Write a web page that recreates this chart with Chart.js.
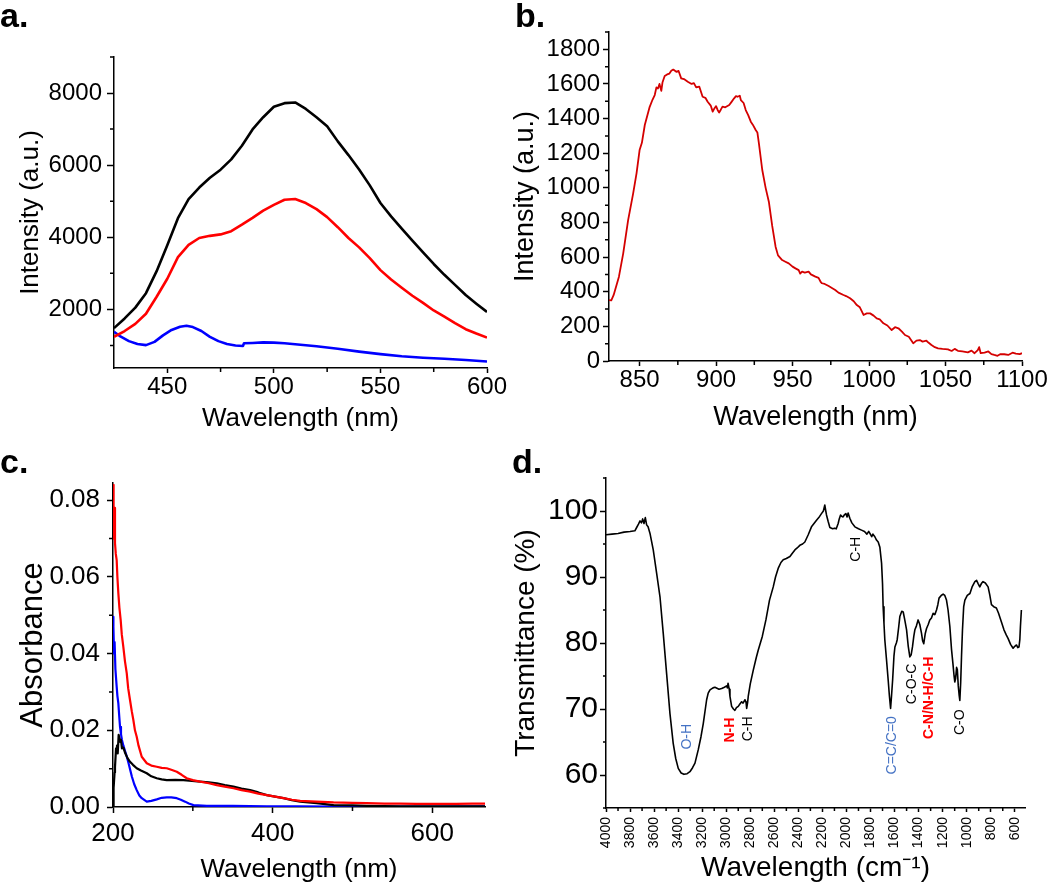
<!DOCTYPE html>
<html>
<head>
<meta charset="utf-8">
<title>Spectra</title>
<script src="https://cdn.jsdelivr.net/npm/chart.js@4.4.0/dist/chart.umd.min.js"></script>
<style>
  body { margin: 0; background: #fff; }
  #wrap { position: relative; width: 1050px; height: 885px; overflow: hidden; }
  canvas { position: absolute; }
</style>
</head>
<body>
<div id="wrap">
  <canvas id="chartA"></canvas>
  <canvas id="chartB"></canvas>
  <canvas id="chartC"></canvas>
  <canvas id="chartD"></canvas>
</div>
<script>
// ---- panel a: emission spectra ----
const aWave = [425, 430, 435, 440, 445, 450, 455, 460, 465, 470, 475, 480, 485, 490, 495, 500, 505, 510,
  515, 520, 525, 530, 535, 540, 545, 550, 555, 560, 565, 570, 575, 580, 585, 590, 595, 600];
const aBlack = [1480, 1750, 2050, 2450, 3060, 3780, 4530, 5060, 5380, 5650, 5875, 6160, 6540, 6990, 7330, 7620, 7720, 7740,
  7560, 7330, 7080, 6660, 6280, 5880, 5440, 4950, 4580, 4240, 3910, 3580, 3260, 2960, 2680, 2400, 2160, 1930];
const aRed = [1240, 1400, 1600, 1880, 2350, 2850, 3450, 3790, 3980, 4040, 4080, 4170, 4350, 4540, 4740, 4900, 5040, 5060,
  4950, 4780, 4560, 4280, 3980, 3720, 3420, 3090, 2830, 2600, 2380, 2180, 1970, 1800, 1620, 1450, 1330, 1220];
const aBlueWave = [425, 428, 432, 436, 440, 444, 448, 452, 456, 459, 462, 466, 470, 474, 478, 482, 485.5, 486,
  490, 495, 500, 505, 510, 520, 530, 540, 550, 560, 570, 580, 590, 600];
const aBlue = [1380, 1250, 1120, 1040, 1010, 1100, 1280, 1430, 1520, 1545, 1510, 1400, 1240, 1120, 1040, 1000, 985, 1060,
  1070, 1085, 1080, 1060, 1035, 980, 910, 830, 760, 700, 660, 630, 595, 555];
const aXTicks = [450, 500, 550, 600];
const aYTicks = [2000, 4000, 6000, 8000];
const aXMinor = [475, 525, 575];
const aYMinor = [1000, 3000, 5000, 7000, 9000];

// ---- panel b: NIR emission ----
const bWave = [
  830, 831.5, 833, 834, 836.5, 839.3, 842.5, 845.8, 848, 850,
  851.5, 853.4, 856.6, 858.5, 859.9, 861, 862, 863, 864.2, 865,
  866.4, 868, 869.5, 870.7, 872, 874, 875.5, 877.2, 879, 881.5,
  884, 885.5, 887, 889, 891.2, 893, 894.5, 896.5, 897.8, 899,
  900, 901, 902, 903, 904.2, 906, 908.6, 910, 911.8, 913,
  914, 915.5, 916.2, 918, 919.4, 921, 922.7, 924, 925.9, 927,
  928, 930.2, 932.4, 934.5, 936.7, 938.9, 940.5, 943.2, 945, 947.5,
  950, 951.9, 954, 955, 956.2, 958, 960.5, 962, 964.9, 967,
  968.5, 969.2, 971, 973.6, 976, 977.9, 980, 983.3, 985, 987.6,
  990, 992, 994, 996.4, 998.5, 1000.7, 1003, 1005, 1007, 1009.4,
  1012, 1014.8, 1017, 1019.2, 1021.5, 1023.5, 1026, 1028.9, 1031, 1033.2,
  1035, 1037.5, 1039, 1040.8, 1043, 1045.1, 1048, 1051.6, 1054, 1056,
  1058.1, 1061, 1064.6, 1067, 1069, 1071.1, 1072, 1073, 1075.5, 1078,
  1080, 1081.9, 1084, 1086, 1088.4, 1091, 1093.8, 1096, 1098.5, 1100];
const bInt = [
  352, 350, 380, 410, 487, 622, 814, 968, 1084, 1218,
  1260, 1363, 1468, 1510, 1536, 1580, 1574, 1600, 1560, 1610,
  1646, 1655, 1660, 1676, 1683, 1670, 1675, 1632, 1628, 1613,
  1600, 1605, 1580, 1585, 1526, 1520, 1497, 1475, 1440, 1460,
  1472, 1450, 1435, 1450, 1469, 1465, 1478, 1495, 1517, 1530,
  1526, 1532, 1507, 1490, 1449, 1420, 1382, 1365, 1334, 1320,
  1257, 1103, 1000, 920, 780, 660, 610, 583, 575, 564,
  545, 535, 525, 505, 516, 510, 516, 500, 487, 480,
  455, 449, 445, 433, 420, 410, 395, 381, 375, 362,
  345, 323, 310, 266, 275, 275, 262, 246, 240, 218,
  205, 179, 195, 189, 170, 150, 140, 102, 118, 121,
  112, 117, 105, 92, 80, 73, 70, 67, 58, 70,
  59, 55, 50, 60, 45, 63, 80, 45, 48, 55,
  40, 35, 30, 40, 39, 35, 48, 42, 40, 45];
const bXTicks = [850, 900, 950, 1000, 1050, 1100];
const bYTicks = [0, 200, 400, 600, 800, 1000, 1200, 1400, 1600, 1800];
const bXMinor = [875, 925, 975, 1025, 1075];
const bYMinor = [100, 300, 500, 700, 900, 1100, 1300, 1500, 1700, 1900];

// ---- panel c: absorbance ----
const cRedWave = [200, 200.5, 201, 201.5, 202.5, 203.5, 204.6, 205.5, 206.7, 208,
  209.6, 211, 212.9, 215, 217.2, 219, 221.3, 223.5, 225.5, 227.5,
  229.7, 232, 236, 242.3, 248, 254.8, 261, 267.3, 273, 279.9,
  286, 292.4, 300, 309.1, 320, 330, 340, 350.9, 361, 371.8,
  382, 392.7, 403, 413.6, 424, 434.5, 455, 476.3, 500, 518.1,
  540, 559.9, 580, 601.6, 630, 650, 666];
const cRed = [0.084, 0.082, 0.070, 0.078, 0.0688, 0.066, 0.0644, 0.060, 0.0557, 0.052,
  0.0488, 0.045, 0.0418, 0.038, 0.0349, 0.031, 0.0279, 0.025, 0.0227, 0.020,
  0.0183, 0.016, 0.0131, 0.0114, 0.0108, 0.0105, 0.0102, 0.0101, 0.0097, 0.0092,
  0.0084, 0.0075, 0.0070, 0.0066, 0.0062, 0.0057, 0.0053, 0.0049, 0.0044, 0.0040,
  0.0035, 0.0031, 0.0027, 0.0023, 0.0019, 0.0016, 0.0014, 0.0012, 0.0011, 0.0010,
  0.0009, 0.0009, 0.0008, 0.0008, 0.0008, 0.0009, 0.0009];
const cBlackWave = [200, 200.5, 201, 202, 202.5, 203.8, 205, 205.9, 207.1, 208,
  209, 210, 211.2, 213, 215.4, 218, 221.3, 225, 229.7, 235,
  242.3, 248, 254.8, 261, 267.3, 278, 288.2, 299, 309.1, 320,
  330, 340, 350.9, 361, 371.8, 382, 392.7, 403, 413.6, 424,
  434.5, 455, 476.3, 500, 518, 560, 601.6, 666];
const cBlack = [0, 0.002, 0.005, 0.009, 0.0104, 0.0153, 0.016, 0.014, 0.0188, 0.018,
  0.017, 0.0175, 0.0153, 0.0155, 0.014, 0.0128, 0.0118, 0.011, 0.0101, 0.0095,
  0.0088, 0.008, 0.0075, 0.0072, 0.007, 0.0071, 0.007, 0.0068, 0.0066, 0.0064,
  0.0062, 0.0057, 0.0053, 0.0048, 0.0044, 0.0038, 0.0031, 0.0027, 0.0023, 0.0018,
  0.0014, 0.001, 0.0005, 0.0004, 0.0003, 0.0002, 0.0002, 0.0002];
const cBlueWave = [200, 200.5, 201.3, 202, 203, 204.6, 205.5, 206.7, 207.7, 208.8,
  210, 211.2, 213, 215.4, 217.5, 219.5, 221.5, 223.7, 226.5, 229.7,
  233, 236, 242.3, 248, 254.8, 261, 267.3, 273, 279.9, 285,
  290.3, 295, 300.8, 317.5, 350, 392.7, 430, 476.3, 550, 600, 666];
const cBlue = [0.0496, 0.047, 0.040, 0.043, 0.036, 0.0314, 0.029, 0.027, 0.024, 0.0209,
  0.019, 0.0175, 0.016, 0.0144, 0.013, 0.0114, 0.0097, 0.0079, 0.006, 0.0044,
  0.003, 0.0023, 0.0014, 0.0016, 0.002, 0.0024, 0.0025, 0.0025, 0.0023, 0.0019,
  0.0014, 0.0009, 0.0005, 0.0003, 0.0003, 0.0002, 0.0002, 0.0001, 0.0001, 0.0001, 0.0002];
const cXTicks = [200, 400, 600];
const cYTicks = [0, 0.02, 0.04, 0.06, 0.08];
const cXMinor = [300, 500];
const cYMinor = [0.01, 0.03, 0.05, 0.07];

// ---- panel d: FTIR ----
const dWave = [
  4000, 3950, 3900, 3850, 3800, 3760, 3745, 3730, 3717, 3705,
  3695, 3684, 3673, 3662, 3650, 3634, 3607, 3579, 3551, 3524,
  3496, 3468, 3441, 3420, 3399, 3375, 3352, 3325, 3302, 3280,
  3260, 3233, 3210, 3191, 3163, 3150, 3135, 3110, 3094, 3060,
  3038, 3015, 2997, 2990, 2985, 2975, 2969, 2955, 2940, 2928,
  2915, 2900, 2885, 2872, 2860, 2844, 2835, 2830, 2822, 2817,
  2800, 2775, 2750, 2734, 2700, 2670, 2640, 2609, 2590, 2568,
  2545, 2526, 2500, 2470, 2450, 2429, 2410, 2388, 2365, 2346,
  2318, 2291, 2270, 2249, 2230, 2208, 2192, 2180, 2172, 2166,
  2152, 2138, 2115, 2097, 2085, 2075, 2069, 2060, 2049, 2040,
  2028, 2018, 2005, 1995, 1986, 1972, 1955, 1930, 1900, 1875,
  1850, 1830, 1815, 1805, 1790, 1780, 1764, 1750, 1736, 1722,
  1708, 1700, 1695, 1688, 1681, 1667, 1653, 1643, 1633, 1625,
  1616, 1605, 1597, 1585, 1578, 1565, 1556, 1540, 1528, 1515,
  1500, 1486, 1473, 1462, 1451, 1440, 1431, 1418, 1404, 1390,
  1376, 1366, 1357, 1345, 1334, 1320, 1307, 1293, 1279, 1265,
  1251, 1240, 1230, 1212, 1196, 1182, 1168, 1155, 1140, 1126,
  1115, 1105, 1099, 1092, 1084, 1078, 1070, 1062, 1057, 1050,
  1043, 1035, 1025, 1015, 995, 973, 955, 932, 918, 905,
  891, 878, 864, 845, 822, 808, 794, 775, 753, 735,
  711, 690, 670, 656, 635, 614, 600, 586, 575, 565,
  558, 553, 545];
const dTrans = [
  96.4, 96.5, 96.6, 96.8, 96.9, 97.0, 97.5, 98.0, 98.5, 98.2,
  98.8, 98.1, 99.0, 97.9, 97.6, 96.6, 94.1, 90.6, 87.0, 81.5,
  75.4, 69.3, 64.8, 62.5, 61.0, 60.3, 60.1, 60.2, 60.5, 61.1,
  61.8, 63.8, 65.8, 67.8, 71.4, 72.4, 72.9, 73.2, 73.3, 73.0,
  73.1, 73.3, 73.5, 73.2, 73.9, 73.0, 71.9, 70.4, 70.0, 69.8,
  70.2, 70.4, 70.8, 71.1, 70.9, 71.4, 71.0, 70.1, 71.0, 71.9,
  73.8, 75.9, 77.8, 78.9, 81.0, 83.5, 86.5, 88.5, 90.0, 91.3,
  92.2, 92.6, 92.8, 93.1, 93.6, 94.1, 94.4, 94.8, 95.0, 95.3,
  96.4, 97.6, 98.1, 98.6, 99.0, 99.6, 100.0, 100.9, 100.0, 99.4,
  98.4, 97.5, 97.3, 97.4, 97.3, 97.8, 98.1, 98.8, 99.4, 99.2,
  99.1, 99.4, 99.6, 99.1, 99.7, 98.9, 98.2, 97.6, 97.3, 97.1,
  96.9, 96.5, 96.9, 96.6, 96.1, 96.5, 96.1, 95.6, 95.3, 94.5,
  92.1, 89.0, 85.5, 83.0, 80.5, 77.5, 74.4, 72.0, 70.1, 72.0,
  74.4, 78.0, 79.4, 80.0, 80.5, 82.5, 84.0, 84.8, 84.7, 83.5,
  82.0, 79.5, 77.9, 78.2, 79.4, 81.0, 82.0, 82.6, 83.5, 82.8,
  81.5, 80.3, 79.9, 81.4, 82.2, 82.8, 83.5, 83.8, 84.5, 84.3,
  85.0, 85.8, 86.8, 87.2, 87.4, 87.2, 86.5, 85.0, 82.5, 79.0,
  77.0, 75.0, 74.1, 74.6, 76.3, 76.0, 73.5, 72.0, 71.3, 74.0,
  78.0, 82.0, 85.5, 86.5, 87.2, 87.5, 88.5, 89.3, 89.5, 89.0,
  88.5, 89.0, 89.3, 89.1, 88.5, 87.3, 85.8, 85.5, 85.3, 84.5,
  83.2, 82.0, 81.2, 80.7, 79.8, 79.2, 79.5, 79.7, 79.3, 79.4,
  80.5, 82.5, 85.0];
const dXTicks = [4000, 3800, 3600, 3400, 3200, 3000, 2800, 2600, 2400, 2200, 2000, 1800, 1600, 1400, 1200, 1000, 800, 600];
const dYTicks = [60, 70, 80, 90, 100];
const dXMinor = [3900, 3700, 3500, 3300, 3100, 2900, 2700, 2500, 2300, 2100, 1900, 1700, 1500, 1300, 1100, 900, 700];
const dYMinor = [55, 65, 75, 85, 95, 105];
// band assignments and the wavenumber they sit at
const dBands = ['O-H', 'N-H', 'C-H', 'C-H', 'C=C/C=0', 'C-O-C', 'C-N/N-H/C-H', 'C-O'];
const dBandWave = [3327, 2969, 2820, 1922, 1622, 1456, 1315, 1057];

const FONT = "'Liberation Sans', Arial, Helvetica, sans-serif";

function pts(xs, ys) {
  return xs.map((x, i) => ({ x: x, y: ys[i] }));
}

// minor ticks drawn outward, like the major ones
const minorTicks = {
  id: 'minorTicks',
  afterDraw(chart, args, o) {
    const ctx = chart.ctx, ca = chart.chartArea;
    const sx = chart.scales.x, sy = chart.scales.y;
    ctx.save();
    ctx.strokeStyle = '#000';
    ctx.lineWidth = 1.5;
    ctx.beginPath();
    o.x.forEach(v => {
      const p = sx.getPixelForValue(v);
      ctx.moveTo(p, ca.bottom);
      ctx.lineTo(p, ca.bottom + o.len);
    });
    o.y.forEach(v => {
      const p = sy.getPixelForValue(v);
      ctx.moveTo(ca.left - o.len, p);
      ctx.lineTo(ca.left, p);
    });
    ctx.stroke();
    ctx.restore();
  }
};

const panelLabel = {
  id: 'panelLabel',
  afterDraw(chart, args, o) {
    const ctx = chart.ctx;
    ctx.save();
    ctx.font = 'bold 34px ' + FONT;
    ctx.fillStyle = '#000';
    ctx.textBaseline = 'alphabetic';
    ctx.fillText(o.text, o.x, o.y);
    ctx.restore();
  }
};

// rotated band labels
const bandLabels = {
  id: 'bandLabels',
  afterDatasetsDraw(chart, args, o) {
    const ctx = chart.ctx;
    (o.items || []).forEach(n => {
      const px = chart.scales.x.getPixelForValue(n.x);
      const py = chart.scales.y.getPixelForValue(n.y);
      ctx.save();
      ctx.translate(px, py);
      ctx.rotate(-Math.PI / 2);
      ctx.font = (n.bold ? 'bold ' : '') + '14px ' + FONT;
      ctx.fillStyle = n.color;
      ctx.textAlign = 'center';
      ctx.textBaseline = 'middle';
      ctx.fillText(n.text, 0, 0);
      ctx.restore();
    });
  }
};

function axisOpts(a, fitSize) {
  return {
    type: 'linear',
    min: a.min,
    max: a.max,
    reverse: !!a.reverse,
    afterBuildTicks: s => { s.ticks = a.ticks.map(v => ({ value: v })); },
    afterFit: s => {
      if (s.isHorizontal()) {
        s.height = fitSize; s.paddingLeft = 0; s.paddingRight = 0;
      } else {
        s.width = fitSize; s.paddingTop = 0; s.paddingBottom = 0;
      }
    },
    grid: { drawOnChartArea: false, tickLength: a.tickLen, tickColor: '#000', tickWidth: 1.5 },
    border: { color: '#000', width: 1.5 },
    ticks: {
      color: '#000',
      padding: a.tickPad,
      autoSkip: false,
      minRotation: a.rot || 0,
      maxRotation: a.rot || 0,
      font: { family: FONT, size: a.tickSize },
      callback: a.format || (v => String(v))
    },
    title: {
      display: true,
      text: a.title,
      color: '#000',
      font: { family: FONT, size: a.titleSize },
      padding: a.titlePad
    }
  };
}

function makePanel(id, box, area, xA, yA, datasets, extra) {
  const cv = document.getElementById(id);
  cv.width = box.w;
  cv.height = box.h;
  cv.style.left = box.x + 'px';
  cv.style.top = box.y + 'px';
  return new Chart(cv, {
    type: 'line',
    data: { datasets: datasets },
    plugins: [minorTicks, panelLabel, bandLabels],
    options: {
      responsive: false,
      animation: false,
      devicePixelRatio: 1,
      events: [],
      layout: { padding: { left: 0, top: area.top - box.y, right: box.x + box.w - area.right, bottom: 0 } },
      elements: { point: { radius: 0 }, line: { tension: 0, borderJoinStyle: 'round' } },
      plugins: {
        legend: { display: false },
        tooltip: { enabled: false },
        minorTicks: extra.minor,
        panelLabel: extra.label,
        bandLabels: { items: extra.notes || [] }
      },
      scales: {
        x: axisOpts(xA, box.y + box.h - area.bottom),
        y: axisOpts(yA, area.left - box.x)
      }
    }
  });
}

function line(data, color, width) {
  return { data: data, borderColor: color, borderWidth: width, fill: false };
}

// a.
makePanel('chartA', { x: 0, y: 0, w: 520, h: 438 }, { left: 114, top: 57, right: 487, bottom: 368 },
  { min: 425, max: 600, ticks: aXTicks, tickLen: 5, tickPad: 0, tickSize: 24,
    title: 'Wavelength (nm)', titleSize: 26, titlePad: { top: 0, bottom: 4 } },
  { min: 375, max: 9000, ticks: aYTicks, tickLen: 7, tickPad: 5, tickSize: 24,
    title: 'Intensity (a.u.)', titleSize: 26, titlePad: { top: 15, bottom: 0 } },
  [
    line(pts(aWave, aBlack), '#000000', 2.6),
    line(pts(aWave, aRed), '#ff0000', 2.6),
    line(pts(aBlueWave, aBlue), '#0000ff', 2.6)
  ],
  { minor: { x: aXMinor, y: aYMinor, len: 4 }, label: { text: 'a.', x: 0, y: 27 } });

// b.
makePanel('chartB', { x: 500, y: 0, w: 550, h: 438 }, { left: 609, top: 32, right: 1022, bottom: 361 },
  { min: 830, max: 1100, ticks: bXTicks, tickLen: 5, tickPad: 0, tickSize: 24,
    title: 'Wavelength (nm)', titleSize: 27, titlePad: { top: 0, bottom: 4 } },
  { min: 0, max: 1900, ticks: bYTicks, tickLen: 6, tickPad: 3, tickSize: 24,
    title: 'Intensity (a.u.)', titleSize: 27, titlePad: { top: 9, bottom: 0 } },
  [line(pts(bWave, bInt), '#d40000', 1.8)],
  { minor: { x: bXMinor, y: bYMinor, len: 4 }, label: { text: 'b.', x: 15, y: 27 } });

// c.
makePanel('chartC', { x: 0, y: 420, w: 520, h: 465 }, { left: 113, top: 483, right: 485, bottom: 807 },
  { min: 200, max: 666, ticks: cXTicks, tickLen: 6, tickPad: 5, tickSize: 26,
    title: 'Wavelength (nm)', titleSize: 26, titlePad: { top: 0, bottom: 0 } },
  { min: 0, max: 0.0845, ticks: cYTicks, tickLen: 6, tickPad: 7, tickSize: 26, format: v => v.toFixed(2),
    title: 'Absorbance', titleSize: 31, titlePad: { top: 15, bottom: 0 } },
  [
    line(pts(cRedWave, cRed), '#ff0000', 2.2),
    line(pts(cBlackWave, cBlack), '#000000', 2.2),
    line(pts(cBlueWave, cBlue), '#0000ff', 2.2)
  ],
  { minor: { x: cXMinor, y: cYMinor, len: 4 }, label: { text: 'c.', x: 0, y: 53 } });

// d.
const dBandY = [65.8, 66.8, 67, 94.2, 64.5, 73.8, 71.7, 68];
const dBandColor = ['#4472c4', '#ff0000', '#000', '#000', '#4472c4', '#000', '#ff0000', '#000'];
const dNotes = dBands.map((t, i) => ({
  text: t, x: dBandWave[i], y: dBandY[i], color: dBandColor[i], bold: dBandColor[i] === '#ff0000'
}));

makePanel('chartD', { x: 500, y: 420, w: 550, h: 465 }, { left: 606, top: 478, right: 1025, bottom: 808 },
  { min: 515, max: 4000, reverse: true, ticks: dXTicks, tickLen: 4, tickPad: 5, tickSize: 14, rot: 90,
    title: 'Wavelength (cm\u207B\u00B9)', titleSize: 28, titlePad: { top: 0, bottom: 0 } },
  { min: 55, max: 105, ticks: dYTicks, tickLen: 6, tickPad: 2, tickSize: 30,
    title: 'Transmittance (%)', titleSize: 28, titlePad: { top: 9, bottom: 0 } },
  [line(pts(dWave, dTrans), '#000000', 1.6)],
  { minor: { x: dXMinor, y: dYMinor, len: 3 }, label: { text: 'd.', x: 12, y: 53 }, notes: dNotes });
</script>
</body>
</html>
